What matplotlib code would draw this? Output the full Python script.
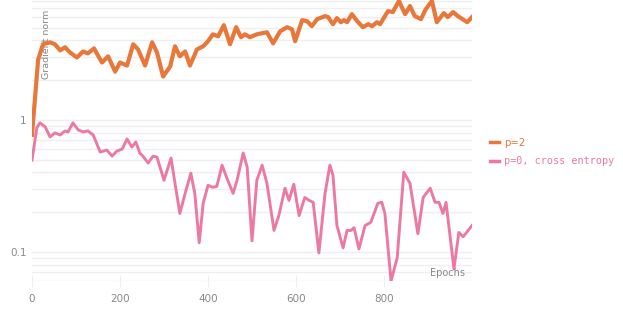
import matplotlib

matplotlib.use("Agg")
import matplotlib.pyplot as plt  # noqa: E402
from matplotlib.lines import Line2D  # noqa: E402

ORANGE = "#E8773A"
PINK = "#EC7AA0"
GRID = "#EFEFEF"
TXT = "#888888"

# gradient norm, p=2
p2_epochs = [0, 14, 25, 41, 52, 64, 75, 86, 102, 116, 127, 141, 159, 173, 189, 200,
             216, 230, 241, 257, 273, 284, 298, 314, 325, 336, 348, 359, 375, 389,
             400, 411, 423, 436, 450, 464, 475, 484, 495, 511, 534, 548, 564, 580,
             591, 598, 614, 625, 636, 648, 666, 673, 684, 693, 702, 709, 716, 727,
             739, 752, 764, 773, 784, 791, 809, 820, 834, 848, 859, 870, 884, 895,
             909, 920, 936, 945, 957, 968, 989, 1000]
p2_norm = [0.77, 2.87, 3.74, 3.87, 3.74, 3.36, 3.55, 3.25, 2.97, 3.30, 3.19, 3.48,
           2.72, 3.03, 2.32, 2.72, 2.58, 3.74, 3.42, 2.58, 3.87, 3.25, 2.13, 2.54,
           3.61, 3.03, 3.30, 2.58, 3.42, 3.61, 3.94, 4.45, 4.30, 5.22, 3.74, 5.04,
           4.23, 4.45, 4.23, 4.45, 4.61, 3.80, 4.69, 5.04, 4.86, 3.94, 5.70, 5.60,
           5.13, 5.80, 6.11, 6.01, 5.31, 5.90, 5.50, 5.70, 5.50, 6.33, 5.60, 5.04,
           5.31, 5.13, 5.50, 5.31, 6.67, 6.56, 7.96, 6.33, 7.29, 6.11, 5.80, 6.91,
           7.96, 5.50, 6.44, 6.01, 6.56, 6.11, 5.50, 6.01]

# gradient norm, p=0 cross entropy
ce_epochs = [0, 11, 18, 30, 41, 52, 64, 75, 82, 93, 105, 116, 127, 139, 155, 170,
             182, 193, 205, 216, 227, 236, 245, 252, 264, 275, 284, 300, 316, 325,
             336, 348, 361, 370, 380, 389, 400, 411, 420, 432, 443, 457, 466, 480,
             489, 500, 511, 523, 534, 550, 561, 575, 584, 595, 607, 620, 630, 639,
             652, 666, 677, 684, 693, 707, 716, 725, 732, 743, 757, 770, 786, 795,
             802, 816, 830, 845, 859, 877, 889, 905, 916, 925, 934, 941, 959, 970,
             980, 1000]
ce_norm = [0.495, 0.869, 0.948, 0.884, 0.742, 0.796, 0.768, 0.824, 0.810, 0.948,
           0.839, 0.810, 0.824, 0.768, 0.570, 0.590, 0.531, 0.580, 0.600, 0.716,
           0.622, 0.679, 0.560, 0.531, 0.470, 0.531, 0.522, 0.348, 0.513, 0.330,
           0.195, 0.277, 0.394, 0.277, 0.117, 0.233, 0.319, 0.308, 0.313, 0.453,
           0.361, 0.277, 0.348, 0.560, 0.438, 0.121, 0.348, 0.453, 0.330, 0.145,
           0.188, 0.303, 0.245, 0.325, 0.188, 0.258, 0.245, 0.237, 0.098, 0.277,
           0.453, 0.380, 0.158, 0.107, 0.145, 0.145, 0.152, 0.105, 0.158, 0.167,
           0.233, 0.237, 0.195, 0.060, 0.090, 0.401, 0.330, 0.137, 0.258, 0.303,
           0.237, 0.237, 0.195, 0.237, 0.074, 0.140, 0.130, 0.158]

x_ticks = [0, 200, 400, 600, 800]

fig = plt.figure(figsize=(6.23, 3.12), dpi=100)
ax = fig.add_axes([32 / 623, 31 / 312, 440 / 623, 281 / 312])

ax.plot(ce_epochs, ce_norm, color=PINK, lw=2.1, solid_joinstyle="round", zorder=3)
ax.plot(p2_epochs, p2_norm, color=ORANGE, lw=3.0, solid_joinstyle="round", zorder=4)

ax.set_yscale("log")
ax.set_xlim(0, 1000)
ax.set_ylim(0.06, 8.1)
ax.set_xticks(x_ticks)
ax.set_xticklabels([str(t) for t in x_ticks])
ax.set_yticks([0.1, 1])
ax.set_yticklabels(["0.1", "1"])
ax.grid(True, which="both", axis="y", color=GRID, lw=1)
ax.tick_params(axis="y", which="both", length=0, colors=TXT, labelsize=7.5, pad=4)
ax.tick_params(axis="x", length=8, direction="inout", color=GRID, colors=TXT,
               labelsize=7.5, pad=5)
ax.tick_params(axis="x", which="minor", length=0)
for s in ax.spines.values():
    s.set_visible(False)

ax.text(0.022, 0.965, "Gradient norm", rotation=90, ha="left", va="top",
        color=TXT, fontsize=6.8, transform=ax.transAxes)
ax.text(0.985, 0.01, "Epochs", ha="right", va="bottom", color=TXT,
        fontsize=7, transform=ax.transAxes)

handles = [Line2D([], [], color=ORANGE, lw=2.5), Line2D([], [], color=PINK, lw=2.5)]
leg = fig.legend(handles, ["p=2", "p=0, cross entropy"], loc="center left",
                 bbox_to_anchor=(481 / 623, 1 - 152 / 312), frameon=False,
                 handlelength=0.85, handletextpad=0.55, labelspacing=0.85,
                 fontsize=7.3)
for t, c in zip(leg.get_texts(), [ORANGE, PINK]):
    t.set_color(c)
leg.get_texts()[1].set_family("DejaVu Sans Mono")

fig.savefig("out.png", dpi=100)
